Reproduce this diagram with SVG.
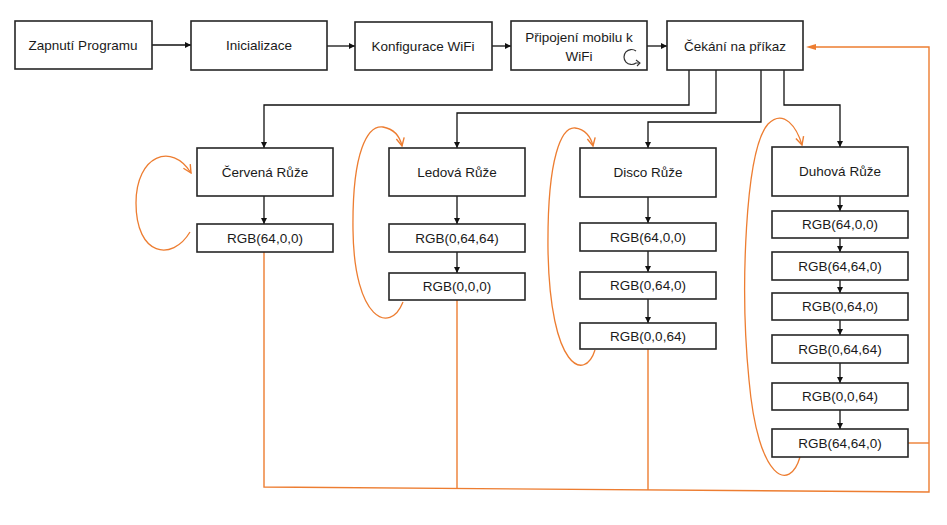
<svg xmlns="http://www.w3.org/2000/svg" width="947" height="525" viewBox="0 0 947 525">
<defs>
<marker id="ab" viewBox="0 0 10 10" refX="10" refY="5" markerWidth="6" markerHeight="6" orient="auto" markerUnits="userSpaceOnUse"><path d="M0,0 L10,5 L0,10 z" fill="#111"/></marker>
<marker id="ao" viewBox="0 0 10 10" refX="9" refY="5" markerWidth="10" markerHeight="10" orient="auto" markerUnits="userSpaceOnUse"><path d="M1,1 L9,5 L1,9" fill="none" stroke="#ED7D31" stroke-width="1.4"/></marker>
</defs>
<style>
.n rect{fill:#fff;stroke:#262626;stroke-width:1.6}
text{font-family:"Liberation Sans",Arial,sans-serif;font-size:13.5px;fill:#1a1a1a;text-anchor:middle}
.k{fill:none;stroke:#111;stroke-width:1.3;marker-end:url(#ab)}
.o{fill:none;stroke:#ED7D31;stroke-width:1.4}
.ol{fill:none;stroke:#ED7D31;stroke-width:1.3;marker-end:url(#ao)}
</style>
<rect width="947" height="525" fill="#fff"/>
<g id="connectors">
<path class="k" d="M152,45 H191"/>
<path class="k" d="M327,46 H355"/>
<path class="k" d="M492,46 H511"/>
<path class="k" d="M647,46 H667"/>
<path class="k" d="M689,70 V105 H264 V148"/>
<path class="k" d="M716,70 V113 H457 V148"/>
<path class="k" d="M761,70 V122 H648 V148"/>
<path class="k" d="M784,70 V105 H840 V147"/>
<path class="k" d="M264,196 V224"/>
<path class="k" d="M457,196 V224"/>
<path class="k" d="M457,252 V273"/>
<path class="k" d="M648,197 V223"/>
<path class="k" d="M648,251 V272"/>
<path class="k" d="M648,299 V323"/>
<path class="k" d="M840,196 V211"/>
<path class="k" d="M840,238 V252"/>
<path class="k" d="M840,280 V293"/>
<path class="k" d="M840,320 V335"/>
<path class="k" d="M840,363 V383"/>
<path class="k" d="M840,410 V429"/>
<path class="o" d="M264,252 V487 L929,492 V47 H810"/>
<path class="o" d="M457,300 V489"/>
<path class="o" d="M648,349 V490"/>
<path class="o" d="M908,443 H929"/>
<path d="M816,44 L806,47 L816,50 z" fill="#ED7D31"/>
<path class="ol" d="M190,232 C172,262 136,256 136,203 C136,155 172,142 191,173"/>
<path class="ol" d="M403,302 C390,335 354,320 353,230 C352,150 368,125 383,127 C394,129 400,137 402,146"/>
<path class="ol" d="M595,350 C585,382 550,370 548,250 C547,155 562,127 575,128 C585,129 591,137 593,146"/>
<path class="ol" d="M800,457 C790,492 758,482 749,380 C740,290 745,150 768,124 C784,108 797,128 802,145"/>
</g>
<g id="n-zapnuti" class="n"><rect x="15" y="21" width="137" height="48"/><text x="83" y="50">Zapnutí Programu</text></g>
<g id="n-inicializace" class="n"><rect x="191" y="21" width="136" height="49"/><text x="259" y="50">Inicializace</text></g>
<g id="n-konfigurace" class="n"><rect x="355" y="22" width="137" height="48"/><text x="423" y="51">Konfigurace WiFi</text></g>
<g id="n-pripojeni" class="n"><rect x="511" y="21" width="136" height="49"/><text x="579" y="42">Připojení mobilu k</text><text x="579" y="61">WiFi</text>
<path d="M636,51 A7.5,7.5 0 1 0 636,63 L640,63" fill="none" stroke="#333" stroke-width="1.2"/><path d="M636,60 L640,63 L637,66" fill="none" stroke="#333" stroke-width="1.1"/></g>
<g id="n-cekani" class="n"><rect x="667" y="21" width="136" height="49"/><text x="735" y="51">Čekání na příkaz</text></g>
<g id="n-cervena" class="n"><rect x="197" y="148" width="136" height="48"/><text x="265" y="177">Červená Růže</text></g>
<g id="n-cervena-1" class="n"><rect x="197" y="224" width="136" height="28"/><text x="265" y="243">RGB(64,0,0)</text></g>
<g id="n-ledova" class="n"><rect x="389" y="148" width="136" height="48"/><text x="457" y="177">Ledová Růže</text></g>
<g id="n-ledova-1" class="n"><rect x="389" y="224" width="136" height="28"/><text x="457" y="243">RGB(0,64,64)</text></g>
<g id="n-ledova-2" class="n"><rect x="389" y="273" width="136" height="27"/><text x="457" y="291">RGB(0,0,0)</text></g>
<g id="n-disco" class="n"><rect x="580" y="148" width="136" height="49"/><text x="648" y="177">Disco Růže</text></g>
<g id="n-disco-1" class="n"><rect x="580" y="223" width="136" height="28"/><text x="648" y="242">RGB(64,0,0)</text></g>
<g id="n-disco-2" class="n"><rect x="580" y="272" width="136" height="27"/><text x="648" y="290">RGB(0,64,0)</text></g>
<g id="n-disco-3" class="n"><rect x="580" y="323" width="136" height="26"/><text x="648" y="341">RGB(0,0,64)</text></g>
<g id="n-duhova" class="n"><rect x="772" y="147" width="136" height="49"/><text x="840" y="176">Duhová Růže</text></g>
<g id="n-duhova-1" class="n"><rect x="772" y="211" width="136" height="27"/><text x="840" y="229">RGB(64,0,0)</text></g>
<g id="n-duhova-2" class="n"><rect x="772" y="252" width="136" height="28"/><text x="840" y="271">RGB(64,64,0)</text></g>
<g id="n-duhova-3" class="n"><rect x="772" y="293" width="136" height="27"/><text x="840" y="311">RGB(0,64,0)</text></g>
<g id="n-duhova-4" class="n"><rect x="772" y="335" width="136" height="28"/><text x="840" y="354">RGB(0,64,64)</text></g>
<g id="n-duhova-5" class="n"><rect x="772" y="383" width="136" height="27"/><text x="840" y="401">RGB(0,0,64)</text></g>
<g id="n-duhova-6" class="n"><rect x="772" y="429" width="136" height="28"/><text x="840" y="448">RGB(64,64,0)</text></g>
</svg>
